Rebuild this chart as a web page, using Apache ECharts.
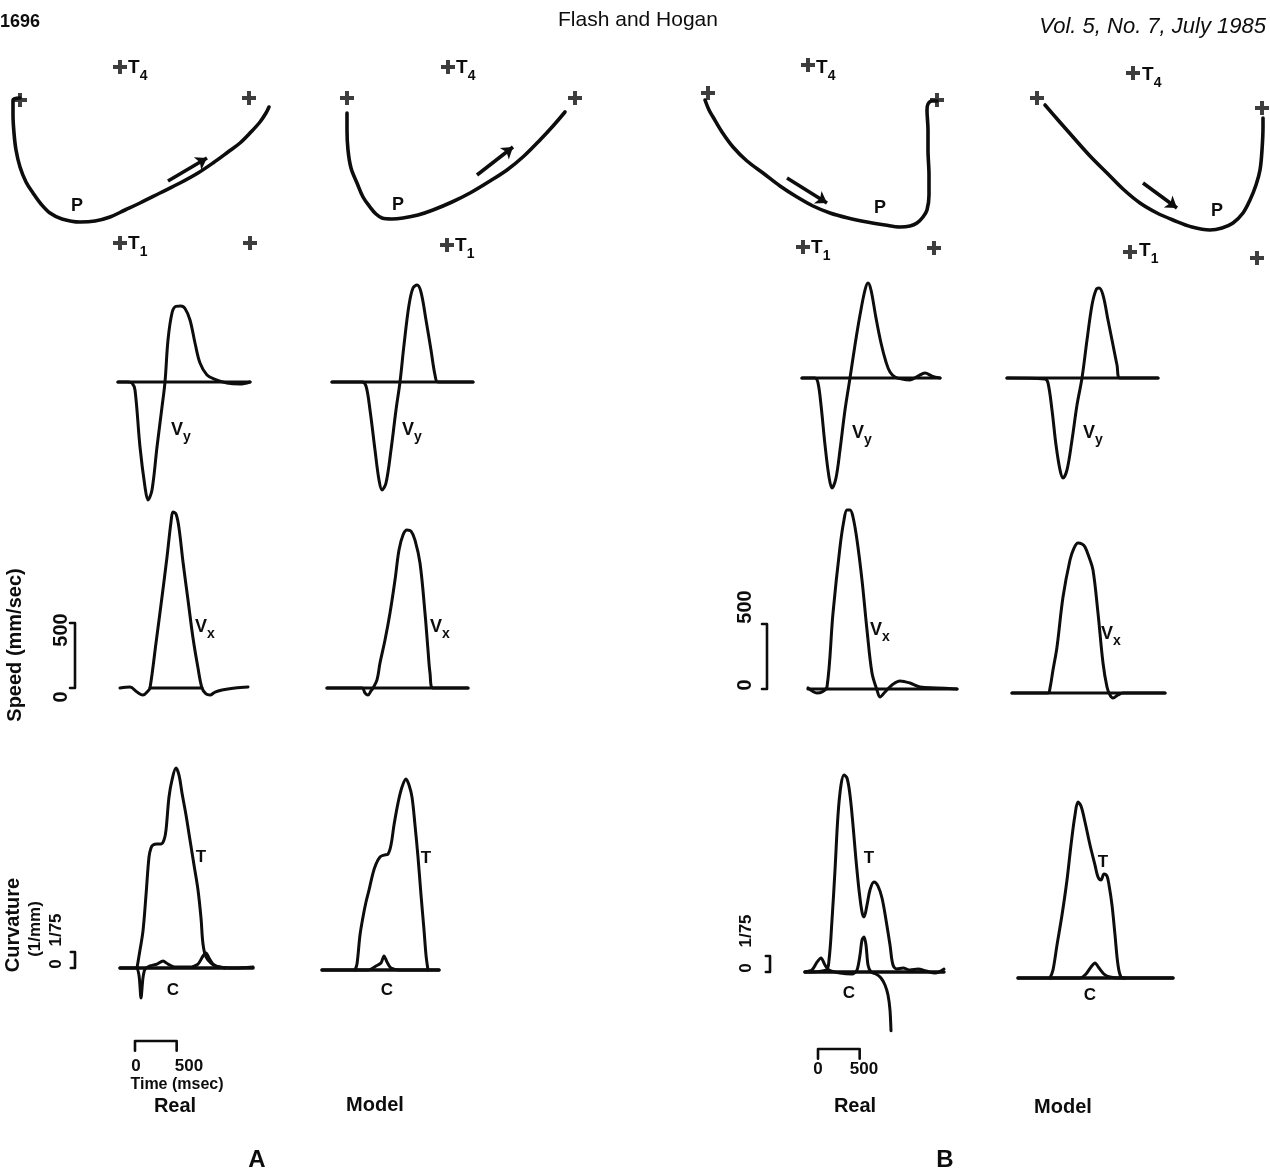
<!DOCTYPE html>
<html><head><meta charset="utf-8">
<script src="https://cdn.jsdelivr.net/npm/echarts/dist/echarts.min.js"></script>
<style>html,body{margin:0;padding:0;background:#fff}#c{width:1270px;height:1169px}</style>
</head><body><div id="c"></div>
<script>
// ---------------- DATA ----------------
// Hand paths (mm), targets (mm), direction arrows (mm)
const aRealPath = [[10,86],[6.5,85],[6.5,77.5],[7,68.5],[8,60],[10,51.5],[13,44],[16.5,38.5],[20.5,33],[25,28.5],[31,25.5],[40,24],[47.5,24.5],[55,26.5],[62.5,30],[70,33.5],[80,38.5],[90,43.5],[99,48.5],[106.5,53.5],[114,59],[120,63.5],[125.5,69],[130,74],[133,78.5],[134.5,81.5]];
const aRealTargets = [[10,85],[60,101.5],[124.5,86],[60,13.5],[125,13.5]];
const aRealArrow = [[84,44.5],[103.5,56]];
const aModelPath = [[13.5,78.5],[13.5,70],[14,60],[15.5,51],[18.5,43.5],[21.5,36.5],[25,31.5],[28,28],[31,26],[36,25.5],[41.5,26],[49,27.5],[56.5,30],[66,34],[75,38.5],[85,44.5],[93.5,50],[102,57],[110,65],[116.5,72],[122.5,79]];
const aModelTargets = [[13.5,86],[64,101.5],[127.5,86],[63.5,12.5]];
const aModelArrow = [[78.5,47.5],[96.5,61.5]];
const bRealPath = [[12.5,85],[14.5,80],[16.5,76.5],[21,69],[26.5,61.5],[33.5,54.5],[41.5,48.5],[50,42],[58.5,36.5],[66.5,32],[75,28.5],[84,26],[93.5,24],[102.5,22.5],[110,21.5],[115,22],[118.5,23.5],[121.5,26.5],[123.5,30],[124.5,37.5],[124.5,47.5],[124,60],[124,70],[123.5,80],[124,83],[126,84.5],[128.5,84.5]];
const bRealTargets = [[14,88.5],[64,102.5],[128.5,85],[61.5,11.5],[127,11]];
const bRealArrow = [[53.5,46],[73.5,33.5]];
const bModelPath = [[22.5,82.5],[29,75],[36.5,66.5],[45,57],[53.5,48.5],[61.5,40.5],[70,33.5],[78.5,28.5],[86.5,25],[96,21.5],[105,20],[111,21],[116.5,23.5],[121.5,28.5],[125,35],[128,42.5],[130,50],[131,60],[131.5,71.5],[131.5,76]];
const bModelTargets = [[18.5,86],[66.5,98.5],[131,81],[65,9],[128.5,6]];
const bModelArrow = [[71.5,43.5],[88.5,31]];

// Vy (time ms, mm/sec)
const aRealVy = [[96,0],[216,0],[264,-8],[300,-62],[360,-500],[420,-807],[456,-907],[504,-830],[564,-500],[624,-192],[660,0],[696,323],[744,531],[790,582],[850,585],[900,565],[960,477],[1020,300],[1080,146],[1164,54],[1260,20],[1404,-8],[1560,-15],[1680,0]];
const aModelVy = [[144,0],[504,0],[552,-31],[600,-215],[660,-523],[708,-754],[744,-830],[792,-777],[852,-523],[912,-215],[960,0],[1008,285],[1068,592],[1116,723],[1164,746],[1212,692],[1272,477],[1332,246],[1380,54],[1416,0],[1836,0]];
const bRealVy = [[24,0],[180,0],[216,-38],[252,-208],[300,-515],[348,-761],[384,-846],[432,-769],[480,-554],[540,-246],[600,0],[660,254],[720,484],[780,677],[816,731],[852,677],[912,461],[972,269],[1032,123],[1080,46],[1140,8],[1224,-8],[1320,-15],[1416,15],[1500,38],[1584,15],[1680,0]];
const bModelVy = [[24,0],[480,-8],[516,-38],[564,-246],[612,-515],[660,-707],[696,-769],[744,-707],[804,-477],[864,-208],[924,0],[984,292],[1044,561],[1092,677],[1128,692],[1176,638],[1236,446],[1296,254],[1344,100],[1380,0],[1836,0]];

// Vx (time ms, mm/sec)
const aRealVx = [[120,0],[240,8],[324,-31],[396,-54],[456,-23],[480,0],[552,346],[624,700],[684,1007],[732,1277],[756,1353],[792,1338],[828,1230],[876,969],[936,677],[996,385],[1056,154],[1104,0],[1152,-46],[1200,-54],[1260,-31],[1344,-15],[1500,0],[1656,8]];
const aModelVx = [[84,0],[504,0],[540,-38],[576,-54],[612,-23],[636,0],[684,62],[720,192],[780,369],[840,577],[900,831],[948,1061],[996,1177],[1044,1215],[1092,1207],[1140,1138],[1200,961],[1260,577],[1296,292],[1320,115],[1356,0],[1776,0]];
const bRealVx = [[96,8],[204,-31],[264,-23],[324,15],[396,584],[480,1092],[528,1300],[564,1377],[600,1377],[636,1323],[684,1146],[744,838],[804,454],[864,123],[924,-8],[960,-62],[1020,-23],[1104,31],[1200,62],[1320,46],[1440,15],[1644,8],[1884,0]];
const bModelVx = [[84,0],[516,0],[540,38],[576,177],[624,354],[696,738],[780,1023],[828,1115],[876,1154],[924,1146],[960,1123],[1008,1046],[1056,946],[1116,615],[1176,231],[1224,46],[1260,-15],[1296,-38],[1356,-15],[1416,0],[1920,0]];

// Tangential speed T (mm/sec) and curvature C (1/mm)
const aRealT = [[324,0],[360,138],[396,285],[432,561],[468,854],[492,923],[516,946],[564,954],[612,954],[648,984],[672,1061],[708,1315],[744,1446],[792,1538],[828,1484],[864,1346],[912,1177],[960,984],[1008,792],[1056,600],[1092,385],[1116,185],[1152,85],[1212,38],[1272,15],[1380,0]];
const aRealC = [[120,0],[312,0],[348,-0.006],[372,-0.025],[396,-0.008],[420,-0.001],[480,0.0017],[564,0.0033],[636,0.0058],[696,0.0033],[780,0.0008],[960,0.0008],[1056,0.0033],[1116,0.01],[1152,0.0125],[1188,0.0083],[1236,0.0033],[1320,0.0008],[1500,0],[1716,0.0008]];
const aModelT = [[420,0],[444,46],[480,269],[516,408],[552,523],[588,615],[636,746],[672,815],[720,869],[768,884],[816,892],[852,961],[888,1115],[936,1284],[984,1407],[1032,1469],[1068,1423],[1104,1330],[1140,1115],[1176,869],[1212,577],[1248,308],[1272,115],[1296,0]];
const aModelC = [[24,0],[576,0],[672,0.0033],[732,0.0058],[768,0.0117],[804,0.0067],[852,0.0017],[960,0],[1428,0]];
const bRealT = [[60,0],[312,15],[348,92],[384,400],[420,784],[456,1207],[492,1438],[528,1515],[564,1492],[600,1361],[636,1130],[672,861],[708,631],[744,461],[768,423],[804,515],[840,631],[888,692],[936,661],[984,569],[1032,400],[1080,208],[1116,54],[1164,23],[1236,31],[1320,15],[1416,23],[1512,8],[1620,-8],[1728,23]];
const bRealC = [[60,0],[144,0.0017],[204,0.0083],[252,0.0117],[300,0.0058],[348,0.0017],[480,-0.0008],[624,-0.0017],[684,0.0017],[720,0.0142],[744,0.0267],[768,0.0292],[792,0.0225],[816,0.0058],[852,0],[912,-0.0017],[972,-0.005],[1020,-0.0108],[1056,-0.0192],[1080,-0.0317],[1092,-0.049]];
const bModelT = [[540,0],[576,62],[624,254],[684,484],[744,754],[792,1023],[840,1253],[876,1353],[912,1323],[960,1200],[1020,1023],[1080,869],[1116,777],[1152,754],[1188,800],[1224,784],[1248,715],[1284,561],[1320,331],[1356,100],[1392,8],[1440,0]];
const bModelC = [[156,0],[900,0],[972,0.0033],[1032,0.0092],[1080,0.0125],[1128,0.0083],[1188,0.0033],[1260,0.0008],[1380,0],[2016,0]];

// zero-line extents (ms) for each panel: [Vy, Vx, T/C]
const aRealZero = [[96,1680],[480,1104],[120,1716]];
const aModelZero = [[144,1836],[84,1776],[24,1428]];
const bRealZero = [[24,1680],[96,1884],[60,1728]];
const bModelZero = [[24,1836],[84,1920],[156,2016]];

// scale bars and their tick labels
const speedBar = [0, 500];      // mm/sec
const timeBar = [0, 500];       // msec
const curvBar = [0, 1/75];      // 1/mm
const speedTicks = ['0', '500'];
const timeTicks = ['0', '500'];
const curvTicks = ['0', '1/75'];
const columnNames = ['Real', 'Model', 'Real', 'Model'];
const partNames = ['A', 'B'];

// ---------------- LAYOUT ----------------
const kT = 12;            // ms per px
const kV = 500 / 65;      // mm/sec per px
const kC = (1 / 75) / 16; // (1/mm) per px
const FONT = '"Liberation Sans", Arial, Helvetica, sans-serif';

const cols = [
  {x0:110, tMin:-720, tMax:1800, vy:382, vx:688, c:968, trajLeft:0,
   path:aRealPath, targets:aRealTargets, arrow:aRealArrow, Vy:aRealVy, Vx:aRealVx, T:aRealT, C:aRealC, zero:aRealZero, bars:true},
  {x0:320, tMin:-120, tMax:1920, vy:382, vx:688, c:970, trajLeft:320,
   path:aModelPath, targets:aModelTargets, arrow:aModelArrow, Vy:aModelVy, Vx:aModelVx, T:aModelT, C:aModelC, zero:aModelZero},
  {x0:800, tMin:-720, tMax:1980, vy:378, vx:689, c:972, trajLeft:680,
   path:bRealPath, targets:bRealTargets, arrow:bRealArrow, Vy:bRealVy, Vx:bRealVx, T:bRealT, C:bRealC, zero:bRealZero, bars:true},
  {x0:1005, tMin:-120, tMax:2100, vy:378, vx:693, c:978, trajLeft:1000,
   path:bModelPath, targets:bModelTargets, arrow:bModelArrow, Vy:bModelVy, Vx:bModelVx, T:bModelT, C:bModelC, zero:bModelZero}
];

const grid = [], xAxis = [], yAxis = [], series = [], graphic = [];
function addGrid(left, top, width, height, xr, yr, yr2) {
  const gi = grid.length;
  grid.push({left, top, width, height, show:false});
  xAxis.push({type:'value', gridIndex:gi, min:xr[0], max:xr[1], show:false});
  const yi = yAxis.length;
  yAxis.push({type:'value', gridIndex:gi, min:yr[0], max:yr[1], show:false});
  let yi2 = null;
  if (yr2) { yi2 = yAxis.length; yAxis.push({type:'value', gridIndex:gi, min:yr2[0], max:yr2[1], show:false}); }
  return {xi:gi, yi, yi2};
}
function addLine(xi, yi, data, width, smooth) {
  series.push({type:'line', xAxisIndex:xi, yAxisIndex:yi, data, symbol:'none', showSymbol:false,
    smooth: smooth === undefined ? 0.35 : smooth,
    lineStyle:{color:'#0d0d0d', width: width || 3, cap:'round', join:'round'}, silent:true, animation:false, clip:false, z:3});
}
const PLUS = 'path://M4.3,0h3.4v4.3h4.3v3.4h-4.3v4.3h-3.4v-4.3h-4.3v-3.4h4.3z';

cols.forEach((L, i) => {
  // trajectory
  const tg = addGrid(L.trajLeft, 50, 270, 220, [0,135], [0,110]);
  addLine(tg.xi, tg.yi, L.path, 3.6, 0.35);
  series.push({type:'scatter', xAxisIndex:tg.xi, yAxisIndex:tg.yi, data:L.targets, symbol:PLUS, symbolSize:14,
    itemStyle:{color:'#0d0d0d'}, silent:true, animation:false, clip:false});
  series.push({type:'lines', coordinateSystem:'cartesian2d', xAxisIndex:tg.xi, yAxisIndex:tg.yi,
    data:[{coords:L.arrow}], symbol:['none','arrow'], symbolSize:[0,11],
    lineStyle:{color:'#0d0d0d', width:3.6, opacity:1, curveness:0}, silent:true, animation:false});

  const gl = L.x0 + L.tMin / kT, gw = (L.tMax - L.tMin) / kT;
  // Vy
  const vyR = [-1000, 900];
  const g1 = addGrid(gl, L.vy - vyR[1]/kV, gw, (vyR[1]-vyR[0])/kV, [L.tMin, L.tMax], vyR);
  addLine(g1.xi, g1.yi, [[L.zero[0][0],0],[L.zero[0][1],0]], 3.2, 0);
  addLine(g1.xi, g1.yi, L.Vy, 3);
  // Vx
  const vxR = [-150, 1500];
  const g2 = addGrid(gl, L.vx - vxR[1]/kV, gw, (vxR[1]-vxR[0])/kV, [L.tMin, L.tMax], vxR);
  addLine(g2.xi, g2.yi, [[L.zero[1][0],0],[L.zero[1][1],0]], 3.2, 0);
  addLine(g2.xi, g2.yi, L.Vx, 3);
  // T and C
  const tR = [-800, 1700];
  const cR = [tR[0]/kV*kC, tR[1]/kV*kC];
  const g3 = addGrid(gl, L.c - tR[1]/kV, gw, (tR[1]-tR[0])/kV, [L.tMin, L.tMax], tR, cR);
  addLine(g3.xi, g3.yi, [[L.zero[2][0],0],[L.zero[2][1],0]], 3.4, 0);
  addLine(g3.xi, g3.yi, L.T, 3);
  addLine(g3.xi, g3.yi2, L.C, 3, 0.25);

  if (L.bars) {
    const isA = i === 0;
    const sx = isA ? -420 : -396;      // speed bar time position
    addLine(g2.xi, g2.yi, [[sx-60,speedBar[1]],[sx,speedBar[1]],[sx,speedBar[0]],[sx-60,speedBar[0]]], 2.6, 0);
    const cx = isA ? -420 : -360;
    addLine(g3.xi, g3.yi2, [[cx-50,curvBar[1]],[cx,curvBar[1]],[cx,curvBar[0]],[cx-50,curvBar[0]]], 2.6, 0);
    const tx = isA ? 300 : 216, ty = isA ? -561 : -592;
    addLine(g3.xi, g3.yi, [[tx+timeBar[0],ty-75],[tx+timeBar[0],ty],[tx+timeBar[1],ty],[tx+timeBar[1],ty-75]], 2.6, 0);
  }
});

// ---------------- TEXT ----------------
function txt(x, y, text, size, o) {
  o = o || {};
  graphic.push({type:'text', x, y, rotation:o.rot || 0, silent:true, z:10,
    style:{text, fill:'#0d0d0d', fontFamily:FONT, fontSize:size, fontWeight:o.weight || 'bold',
      fontStyle:o.style || 'normal', align:o.align || 'center', verticalAlign:'middle'}});
}
function sub(x, y, main, s, size, subSize) {
  txt(x, y, main, size, {align:'left'});
  const w = size * (main === 'V' ? 0.66 : 0.62);
  txt(x + w, y + size * 0.42, s, subSize || Math.round(size * 0.75), {align:'left'});
}
const R = Math.PI / 2;
// header
txt(0, 22, '1696', 18, {align:'left'});
txt(638, 20, 'Flash and Hogan', 21, {weight:'normal'});
txt(1266, 27, 'Vol. 5, No. 7, July 1985', 22, {align:'right', style:'italic', weight:'normal'});
// targets T4/T1 labels
[[128,68,'4'],[128,244,'1'],[456,68,'4'],[455,246,'1'],[816,68,'4'],[811,248,'1'],[1142,75,'4'],[1139,251,'1']]
  .forEach(p => sub(p[0], p[1], 'T', p[2], 19, 14));
// P labels
[[77,206],[398,205],[880,208],[1217,211]].forEach(p => txt(p[0], p[1], 'P', 18));
// Vy / Vx labels
[[171,430],[402,430],[852,433],[1083,433]].forEach(p => sub(p[0], p[1], 'V', 'y', 18, 14));
[[195,627],[430,627],[870,630],[1101,634]].forEach(p => sub(p[0], p[1], 'V', 'x', 18, 14));
// T / C labels
[[201,857],[426,858],[869,858],[1103,862]].forEach(p => txt(p[0], p[1], 'T', 17));
[[173,990],[387,990],[849,993],[1090,995]].forEach(p => txt(p[0], p[1], 'C', 17));
// speed axis
txt(15, 645, 'Speed (mm/sec)', 20, {rot:R});
txt(61, 630, speedTicks[1], 20, {rot:R});
txt(61, 697, speedTicks[0], 20, {rot:R});
txt(745, 607, speedTicks[1], 20, {rot:R});
txt(745, 685, speedTicks[0], 20, {rot:R});
// curvature axis
txt(13, 925, 'Curvature', 20, {rot:R});
txt(35, 929, '(1/mm)', 17, {rot:R});
txt(56, 964, curvTicks[0], 17, {rot:R});
txt(56, 930, curvTicks[1], 17, {rot:R});
txt(746, 968, curvTicks[0], 17, {rot:R});
txt(746, 931, curvTicks[1], 17, {rot:R});
// time axis
txt(136, 1066, timeTicks[0], 17);
txt(189, 1066, timeTicks[1], 17);
txt(177, 1085, 'Time (msec)', 16);
txt(818, 1069, timeTicks[0], 17);
txt(864, 1069, timeTicks[1], 17);
// column & part labels
[[175,1106],[375,1105],[855,1106],[1063,1107]].forEach((p, i) => txt(p[0], p[1], columnNames[i], 20));
txt(257, 1160, partNames[0], 24);
txt(945, 1160, partNames[1], 24);

const chart = echarts.init(document.getElementById('c'), null, {renderer:'canvas'});
chart.setOption({backgroundColor:'#fff', animation:false, grid, xAxis, yAxis, series, graphic});
</script></body></html>
